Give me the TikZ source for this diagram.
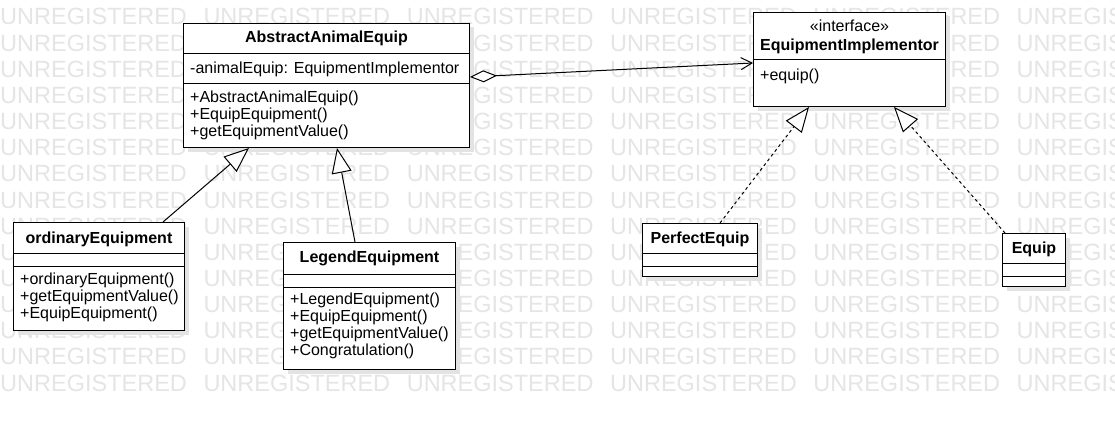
\documentclass[tikz,border=0pt]{standalone}
\usepackage{fontspec}
\setmainfont{Liberation Sans}
\usetikzlibrary{arrows.meta,calc,shadows}
\begin{document}
\begin{tikzpicture}[x=1pt,y=-1pt,
  umlbox/.style={draw=black,line width=1pt,fill=white,inner sep=0pt,anchor=north west,rectangle,
    drop shadow={shadow xshift=4pt,shadow yshift=-4pt,fill=black!11,opacity=1}},
  divider/.style={draw=black,line width=1pt},
  member/.style={anchor=base west,inner sep=0pt,font=\fontsize{16}{17}\selectfont},
  clstitle/.style={anchor=base,inner sep=0pt,font=\fontsize{16}{17}\selectfont\bfseries},
  stereo/.style={anchor=base,inner sep=0pt,font=\fontsize{16}{17}\selectfont},
  wm/.style={anchor=base west,inner sep=0pt,text=black!10,font=\fontsize{23.5}{23.5}\selectfont},
  gen/.style={draw=black,line width=1pt,-{Triangle[length=25pt,width=20pt,fill=white]}},
  realiz/.style={gen,dash pattern=on 3pt off 3pt},
  agg/.style={draw=black,line width=1pt,{Diamond[length=27pt,width=12pt,fill=white]}-{Straight Barb[length=11pt,width=12pt]}},
]
\useasboundingbox (0,0) rectangle (1115,420);
\clip (0,0) rectangle (1115,420);
\fill[white] (0,0) rectangle (1115,420);

% watermark
\foreach \k in {0,...,14} {
  \foreach \j in {0,...,5} {
    \node[wm] (wm-\k-\j) at ({203.3*\j},{25+26.15*\k}) {UNREGISTERED};
  }
}

% AbstractAnimalEquip
\node[umlbox,minimum width=286pt,minimum height=124pt] (abs) at (183,23) {};
\draw[divider] ($(abs.north west)+(0,31)$) -- ($(abs.north east)+(0,31)$);
\draw[divider] ($(abs.north west)+(0,60)$) -- ($(abs.north east)+(0,60)$);
\node[clstitle] (absT) at ($(abs.north)+(0,20)$) {AbstractAnimalEquip};
\node[member] (absA) at ($(abs.north west)+(7,50)$) {-animalEquip: EquipmentImplementor};
\node[member] (absM1) at ($(abs.north west)+(7,79)$) {+AbstractAnimalEquip()};
\node[member] (absM2) at ($(abs.north west)+(7,96)$) {+EquipEquipment()};
\node[member] (absM3) at ($(abs.north west)+(7,113)$) {+getEquipmentValue()};

% EquipmentImplementor
\node[umlbox,minimum width=192pt,minimum height=94pt] (ei) at (753,12) {};
\draw[divider] ($(ei.north west)+(0,47.3)$) -- ($(ei.north east)+(0,47.3)$);
\node[stereo] (eiS) at ($(ei.north)+(0,19.7)$) {«interface»};
\node[clstitle] (eiT) at ($(ei.north)+(0,39)$) {EquipmentImplementor};
\node[member] (eiM1) at ($(ei.north west)+(7,68)$) {+equip()};

% ordinaryEquipment
\node[umlbox,minimum width=171pt,minimum height=108pt] (ord) at (13,222) {};
\draw[divider] ($(ord.north west)+(0,31)$) -- ($(ord.north east)+(0,31)$);
\draw[divider] ($(ord.north west)+(0,44)$) -- ($(ord.north east)+(0,44)$);
\node[clstitle] (ordT) at ($(ord.north)+(0,21)$) {ordinaryEquipment};
\node[member] (ordM1) at ($(ord.north west)+(7,62)$) {+ordinaryEquipment()};
\node[member] (ordM2) at ($(ord.north west)+(7,79)$) {+getEquipmentValue()};
\node[member] (ordM3) at ($(ord.north west)+(7,96)$) {+EquipEquipment()};

% LegendEquipment
\node[umlbox,minimum width=172pt,minimum height=127pt] (leg) at (283,242) {};
\draw[divider] ($(leg.north west)+(0,32)$) -- ($(leg.north east)+(0,32)$);
\draw[divider] ($(leg.north west)+(0,45)$) -- ($(leg.north east)+(0,45)$);
\node[clstitle] (legT) at ($(leg.north)+(0,20.5)$) {LegendEquipment};
\node[member] (legM1) at ($(leg.north west)+(7,62)$) {+LegendEquipment()};
\node[member] (legM2) at ($(leg.north west)+(7,79)$) {+EquipEquipment()};
\node[member] (legM3) at ($(leg.north west)+(7,96)$) {+getEquipmentValue()};
\node[member] (legM4) at ($(leg.north west)+(7,113)$) {+Congratulation()};

% PerfectEquip
\node[umlbox,minimum width=115pt,minimum height=53pt] (perf) at (642,223) {};
\draw[divider] ($(perf.north west)+(0,30.5)$) -- ($(perf.north east)+(0,30.5)$);
\draw[divider] ($(perf.north west)+(0,43)$) -- ($(perf.north east)+(0,43)$);
\node[clstitle] (perfT) at ($(perf.north)+(0,20.5)$) {PerfectEquip};

% Equip
\node[umlbox,minimum width=63pt,minimum height=53pt] (eq) at (1002,233) {};
\draw[divider] ($(eq.north west)+(0,30.5)$) -- ($(eq.north east)+(0,30.5)$);
\draw[divider] ($(eq.north west)+(0,43)$) -- ($(eq.north east)+(0,43)$);
\node[clstitle] (eqT) at ($(eq.north)+(0,20.5)$) {Equip};

% connectors
\draw[gen] ($(ord.north west)+(150,0)$) -- ($(abs.south west)+(66,0)$);
\draw[gen] ($(leg.north west)+(72,0)$) -- ($(abs.south west)+(154,0)$);
\draw[realiz] ($(perf.north west)+(78,0)$) -- ($(ei.south west)+(56,0)$);
\draw[realiz] ($(eq.north west)+(3,0)$) -- ($(ei.south west)+(141,0)$);
\draw[agg] ($(abs.north east)+(0,54)$) -- ($(ei.north west)+(0,51)$);
\end{tikzpicture}
\end{document}
